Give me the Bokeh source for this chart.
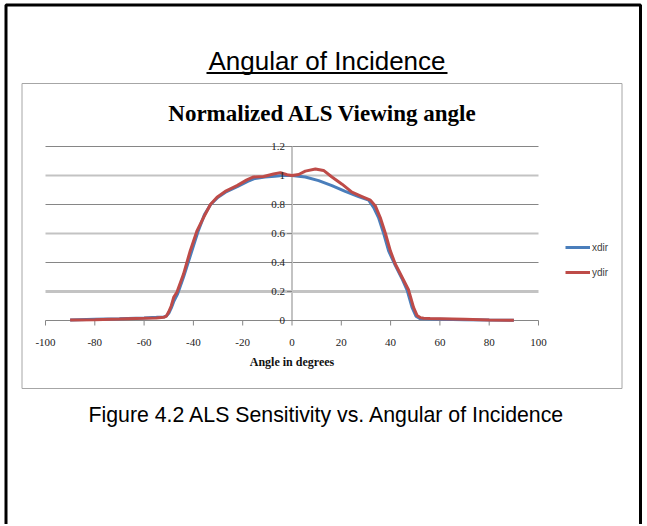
import numpy as np
from bokeh.plotting import figure
from bokeh.models import (Range1d, Label, LabelSet, ColumnDataSource, BoxAnnotation,
                          Legend, LegendItem)
from bokeh.embed import file_html
from bokeh.resources import INLINE

# ---------------- data ----------------
xdir_angle = [-90, -80, -70, -60, -55, -52, -51, -50, -49, -48, -46.5, -44, -41, -38, -35.5, -33,
              -30, -27, -22, -18, -15, -11, -7, -4, 0, 5.4, 10.8, 16.2, 21.6, 27, 31.1, 33.1,
              35.1, 37.2, 39.2, 41.9, 44.6, 46.7, 48.7, 50.3, 52, 56, 60, 70, 80, 90]
xdir_value = [0.004, 0.008, 0.012, 0.018, 0.022, 0.025, 0.03, 0.05, 0.085, 0.13, 0.18, 0.30, 0.46,
              0.62, 0.73, 0.80, 0.85, 0.885, 0.925, 0.96, 0.98, 0.99, 0.995, 1.0, 1.0, 0.99, 0.965,
              0.93, 0.89, 0.855, 0.83, 0.78, 0.71, 0.60, 0.48, 0.38, 0.29, 0.21, 0.09, 0.03, 0.012,
              0.01, 0.009, 0.006, 0.003, 0.001]

ydir_angle = [-90, -80, -70, -60, -55, -52, -51, -50, -49, -48, -46.7, -44, -41.3, -38.5, -35.9,
              -33.1, -30.4, -27.1, -22.3, -18.3, -15.6, -11.5, -7.5, -4.7, -2, 0, 2.7, 5.4, 9.5,
              12.8, 16.2, 20.3, 24.3, 28.4, 31.8, 33.8, 35.8, 37.9, 39.9, 41.9, 44.6, 47.3, 49.3,
              50.7, 52, 53.4, 56, 60, 70, 80, 90]
ydir_value = [0.003, 0.006, 0.01, 0.015, 0.018, 0.022, 0.03, 0.06, 0.10, 0.16, 0.195, 0.32, 0.48,
              0.62, 0.71, 0.80, 0.85, 0.89, 0.93, 0.97, 0.99, 0.993, 1.01, 1.02, 1.005, 1.0, 1.007,
              1.03, 1.045, 1.035, 0.99, 0.94, 0.885, 0.855, 0.83, 0.79, 0.71, 0.60, 0.48, 0.39,
              0.30, 0.21, 0.09, 0.035, 0.02, 0.015, 0.013, 0.012, 0.008, 0.004, 0.001]

x_ticks = [-100, -80, -60, -40, -20, 0, 20, 40, 60, 80, 100]
x_tick_labels = ["-100", "-80", "-60", "-40", "-20", "0", "20", "40", "60", "80", "100"]
y_ticks = [0, 0.2, 0.4, 0.6, 0.8, 1.0, 1.2]
y_tick_labels = ["0", "0.2", "0.4", "0.6", "0.8", "1", "1.2"]
series_names = ["xdir", "ydir"]

page_title = "Angular of Incidence"
chart_title = "Normalized ALS Viewing angle"
x_title = "Angle in degrees"
caption = "Figure 4.2 ALS Sensitivity vs. Angular of Incidence"

BLUE = "#4a7ebb"
RED = "#be4b48"

# ---------------- layout (pixels on the page) ----------------
W, H = 645, 524
PLOT_L, PLOT_R = 45.0, 538.0      # pixel of x = -100 and x = 100
PLOT_T, PLOT_B = 146.0, 320.0     # pixel of y = 1.2 and y = 0
sx = (PLOT_R - PLOT_L) / (x_ticks[-1] - x_ticks[0])
sy = (PLOT_B - PLOT_T) / (y_ticks[-1] - y_ticks[0])
cx0 = x_ticks[0] - PLOT_L / sx
cy0 = y_ticks[0] - (H - PLOT_B) / sy

p = figure(width=W, height=H, output_backend="svg", toolbar_location=None,
           x_range=Range1d(0, W), y_range=Range1d(0, H),
           x_axis_location=None, y_axis_location=None, min_border=0)
p.extra_x_ranges = {"c": Range1d(cx0, cx0 + W / sx)}
p.extra_y_ranges = {"c": Range1d(cy0, cy0 + H / sy)}
p.background_fill_color = "white"
p.border_fill_color = "white"
p.outline_line_color = None
p.xgrid.visible = False
p.ygrid.visible = False

C = dict(x_range_name="c", y_range_name="c")

# gridlines
for ticks, col, w in (([0.4, 0.8, 1.2], "#868686", 1), ([0.6, 1.0], "#c3c3c3", 2), ([0.2], "#c3c3c3", 3)):
    p.segment(x0=[x_ticks[0]] * len(ticks), x1=[x_ticks[-1]] * len(ticks), y0=ticks, y1=ticks,
              line_color=col, line_width=w, **C)

# vertical axis at x = 0
p.segment(x0=[0], x1=[0], y0=[y_ticks[0]], y1=[y_ticks[-1]], line_color="#c3c3c3", line_width=2, **C)
p.ray(x=[0] * len(y_ticks), y=y_ticks, length=5, length_units="screen", angle=np.pi,
      line_color="#868686", line_width=1, **C)

# horizontal axis at y = 0
p.segment(x0=[x_ticks[0]], x1=[x_ticks[-1]], y0=[0], y1=[0], line_color="#868686", line_width=1, **C)
p.ray(x=x_ticks, y=[0] * len(x_ticks), length=5, length_units="screen", angle=-np.pi / 2,
      line_color="#868686", line_width=1, **C)

# series
r1 = p.line(xdir_angle, xdir_value, line_color=BLUE, line_width=3, **C)
r2 = p.line(ydir_angle, ydir_value, line_color=RED, line_width=3, **C)

# tick labels
xsrc = ColumnDataSource(dict(x=x_ticks, y=[0] * len(x_ticks), t=x_tick_labels))
p.add_layout(LabelSet(x="x", y="y", text="t", source=xsrc, y_offset=-22, text_align="center",
                      text_baseline="middle", text_font="Liberation Serif", text_font_size="11px",
                      text_color="#222222", **C))
ysrc = ColumnDataSource(dict(x=[0] * len(y_ticks), y=y_ticks, t=y_tick_labels))
p.add_layout(LabelSet(x="x", y="y", text="t", source=ysrc, x_offset=-7, text_align="right",
                      text_baseline="middle", text_font="Liberation Serif", text_font_size="11px",
                      text_color="#222222", **C))
p.add_layout(Label(x=(x_ticks[0] + x_ticks[-1]) / 2, y=0, y_offset=-41, text=x_title,
                   text_font="Liberation Serif", text_font_style="bold", text_font_size="12px",
                   text_align="center", text_baseline="middle", text_color="#111111", **C))

leg = Legend(items=[LegendItem(label=series_names[0], renderers=[r1]),
                    LegendItem(label=series_names[1], renderers=[r2])],
             location=(565, H - 282), orientation="vertical", padding=0, margin=0, spacing=5,
             glyph_width=25, glyph_height=20, label_height=20, label_standoff=2,
             label_text_font="Liberation Sans", label_text_font_size="10px",
             label_text_color="#404040", border_line_color=None, background_fill_alpha=0)
p.add_layout(leg)

# decorations in page pixels (screen units: x from left, y from bottom)
def box(l, t, r, b, **kw):
    p.add_layout(BoxAnnotation(left=l, right=r, top=H - t, bottom=H - b,
                               left_units="screen", right_units="screen",
                               top_units="screen", bottom_units="screen", **kw))

box(5.5, 4.5, 640, H + 20, fill_alpha=0, line_color="black", line_alpha=1, line_width=3)
box(21.5, 83, 621.5, 388, fill_alpha=0, line_color="#a6a6a6", line_alpha=1, line_width=1)
box(206, 71.5, 447, 73.5, fill_color="black", fill_alpha=1, line_color=None)

def text(x, y, s, **kw):
    p.add_layout(Label(x=x, y=H - y, x_units="screen", y_units="screen", text=s,
                       text_align="center", text_baseline="alphabetic", text_color="black", **kw))

text(326.5, 60.3, page_title, text_font="Liberation Sans", text_font_size="26px")
text(322.3, 113, chart_title, text_font="Liberation Serif", text_font_style="bold", text_font_size="23px")
text(326.5, 414.2, caption, text_font="Liberation Sans", text_font_size="21.3px")

open("out.html", "w").write(file_html(p, INLINE))
